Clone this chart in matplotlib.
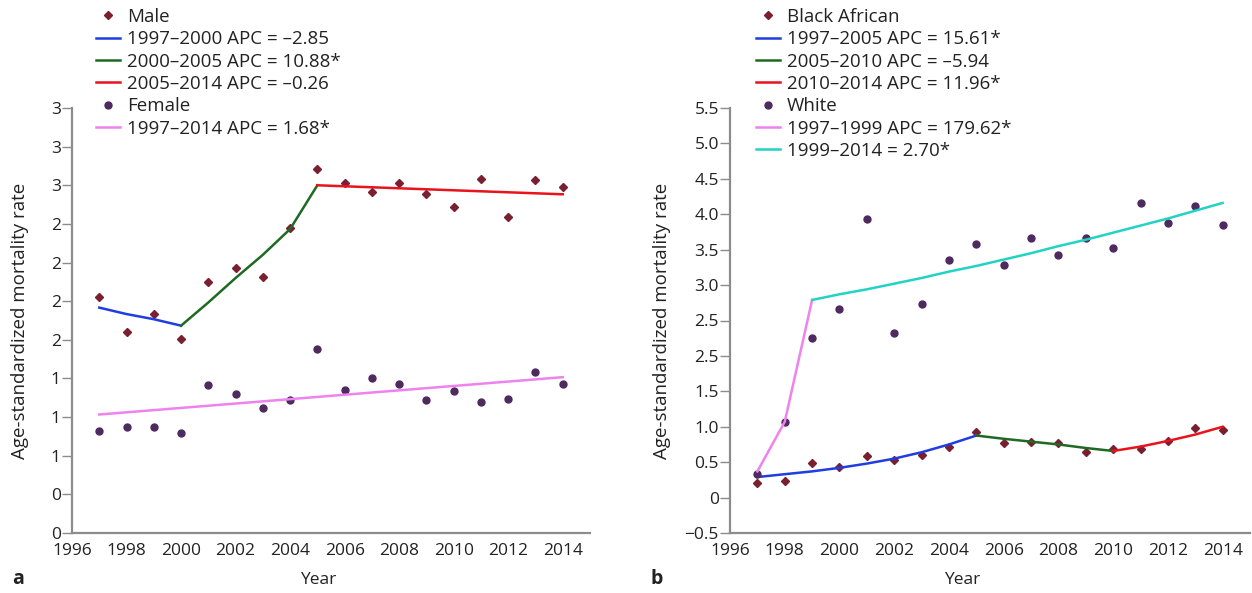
import matplotlib
matplotlib.use("Agg")
import matplotlib.pyplot as plt
from matplotlib.ticker import FixedLocator, FixedFormatter

plt.rcParams["font.family"] = ["Open Sans", "DejaVu Sans"]

years = list(range(1997, 2015))

# panel a: sex
male = [1.83, 1.56, 1.70, 1.51, 1.95, 2.06, 1.99, 2.37, 2.83, 2.72,
        2.65, 2.72, 2.63, 2.53, 2.75, 2.45, 2.74, 2.69]
female = [0.79, 0.82, 0.82, 0.78, 1.15, 1.08, 0.97, 1.03, 1.43, 1.11,
          1.20, 1.16, 1.03, 1.10, 1.02, 1.04, 1.25, 1.16]
male_fit1_years = [1997, 1998, 1999, 2000]
male_fit1 = [1.75, 1.70, 1.66, 1.61]
male_fit2_years = [2000, 2001, 2002, 2003, 2004, 2005]
male_fit2 = [1.61, 1.79, 1.98, 2.16, 2.36, 2.70]
male_fit3_years = [2005, 2014]
male_fit3 = [2.70, 2.63]
female_fit_years = [1997, 2014]
female_fit = [0.92, 1.21]

# panel b: ethnicity
black = [0.21, 0.24, 0.49, 0.43, 0.59, 0.53, 0.60, 0.71, 0.92, 0.77,
         0.79, 0.77, 0.64, 0.68, 0.69, 0.80, 0.98, 0.96]
white = [0.34, 1.07, 2.25, 2.66, 3.93, 2.33, 2.73, 3.36, 3.58, 3.28,
         3.67, 3.42, 3.66, 3.53, 4.16, 3.88, 4.11, 3.85]
black_fit1_years = [1997, 1998, 1999, 2000, 2001, 2002, 2003, 2004, 2005]
black_fit1 = [0.29, 0.33, 0.37, 0.42, 0.48, 0.55, 0.64, 0.75, 0.876]
black_fit2_years = [2005, 2006, 2007, 2008, 2009, 2010]
black_fit2 = [0.876, 0.83, 0.79, 0.75, 0.70, 0.658]
black_fit3_years = [2010, 2011, 2012, 2013, 2014]
black_fit3 = [0.658, 0.72, 0.80, 0.89, 1.00]
white_fit1_years = [1997, 1998, 1999]
white_fit1 = [0.37, 1.07, 2.79]
white_fit2_years = list(range(1999, 2015))
white_fit2 = [2.79, 2.87, 2.94, 3.02, 3.10, 3.19, 3.27, 3.36, 3.45, 3.55,
              3.64, 3.74, 3.84, 3.94, 4.05, 4.16]

xticks = list(range(1996, 2015, 2))
yticks_a = [0, 0.3, 0.6, 0.9, 1.2, 1.5, 1.8, 2.1, 2.4, 2.7, 3.0, 3.3]
ylabels_a = ["0", "0", "1", "1", "1", "2", "2", "2", "2", "3", "3", "3"]
yticks_b = [-0.5, 0, 0.5, 1.0, 1.5, 2.0, 2.5, 3.0, 3.5, 4.0, 4.5, 5.0, 5.5]
ylabels_b = ["\u22120.5", "0", "0.5", "1.0", "1.5", "2.5", "2.5", "3.0",
             "3.5", "4.0", "4.5", "5.0", "5.5"]

c_dia = "#7a1f30"
c_dot = "#4e2a5e"
c_blue = "#1f3de0"
c_green = "#1f6a22"
c_red = "#e8131c"
c_pink = "#ee82ee"
c_cyan = "#22d3c5"
grey = "#8c8c8c"
ink = "#222222"

fig = plt.figure(figsize=(12.52, 5.93), dpi=100)
ax_a = fig.add_axes([72 / 1252, 1 - 533 / 593, 518 / 1252, 425 / 593])
ax_b = fig.add_axes([730 / 1252, 1 - 533 / 593, 520 / 1252, 425 / 593])


def style(ax, yticks, ylabels, ylim, label_x):
    ax.set_xlim(1996, 2015)
    ax.set_ylim(*ylim)
    ax.xaxis.set_major_locator(FixedLocator(xticks))
    ax.yaxis.set_major_locator(FixedLocator(yticks))
    ax.yaxis.set_major_formatter(FixedFormatter(ylabels))
    for s in ["top", "right"]:
        ax.spines[s].set_visible(False)
    for s in ["left", "bottom"]:
        ax.spines[s].set_color(grey)
        ax.spines[s].set_linewidth(1.6)
    ax.tick_params(axis="x", length=0, pad=7, labelsize=12.5, colors=ink)
    ax.tick_params(axis="y", length=7, width=1, color=grey, pad=1,
                   labelsize=12.5, labelcolor=ink)
    ax.set_ylabel("Age-standardized mortality rate", fontsize=13.5, color=ink)
    ax.yaxis.set_label_coords(label_x, 0.5)


ms_d = 4
ms_o = 5

ax_a.plot(years, male, "D", color=c_dia, ms=ms_d, ls="none", label="Male")
ax_a.plot(male_fit1_years, male_fit1, color=c_blue, lw=1.8,
          label="1997\u20132000 APC = \u20132.85")
ax_a.plot(male_fit2_years, male_fit2, color=c_green, lw=1.8,
          label="2000\u20132005 APC = 10.88*")
ax_a.plot(male_fit3_years, male_fit3, color=c_red, lw=1.8,
          label="2005\u20132014 APC = \u20130.26")
ax_a.plot(years, female, "o", color=c_dot, ms=ms_o, ls="none", label="Female")
ax_a.plot(female_fit_years, female_fit, color=c_pink, lw=1.8,
          label="1997\u20132014 APC = 1.68*")
style(ax_a, yticks_a, ylabels_a, (0, 3.3), -0.083)

ax_b.plot(years, black, "D", color=c_dia, ms=ms_d, ls="none", label="Black African")
ax_b.plot(black_fit1_years, black_fit1, color=c_blue, lw=1.8,
          label="1997\u20132005 APC = 15.61*")
ax_b.plot(black_fit2_years, black_fit2, color=c_green, lw=1.8,
          label="2005\u20132010 APC = \u20135.94")
ax_b.plot(black_fit3_years, black_fit3, color=c_red, lw=1.8,
          label="2010\u20132014 APC = 11.96*")
ax_b.plot(years, white, "o", color=c_dot, ms=ms_o, ls="none", label="White")
ax_b.plot(white_fit1_years, white_fit1, color=c_pink, lw=1.8,
          label="1997\u20131999 APC = 179.62*")
ax_b.plot(white_fit2_years, white_fit2, color=c_cyan, lw=1.8,
          label="1999\u20132014 = 2.70*")
style(ax_b, yticks_b, ylabels_b, (-0.5, 5.5), -0.113)

for ax, x0 in [(ax_a, 96), (ax_b, 756)]:
    ax.legend(loc="upper left", bbox_to_anchor=(x0 / 1252, 1 - 8 / 593),
              bbox_transform=fig.transFigure, frameon=False, fontsize=13.5,
              borderpad=0, borderaxespad=0, handlelength=1.3, handletextpad=0.35,
              labelspacing=0.23, labelcolor=ink)

fig.text(318 / 1252, 1 - 580 / 593, "Year", ha="center", va="center",
         fontsize=12.5, color=ink)
fig.text(962 / 1252, 1 - 580 / 593, "Year", ha="center", va="center",
         fontsize=12.5, color=ink)
fig.text(12 / 1252, 1 - 579 / 593, "a", ha="left", va="center",
         fontsize=14, fontweight="bold", color=ink)
fig.text(651 / 1252, 1 - 579 / 593, "b", ha="left", va="center",
         fontsize=14, fontweight="bold", color=ink)

fig.savefig("out.png", dpi=100)
